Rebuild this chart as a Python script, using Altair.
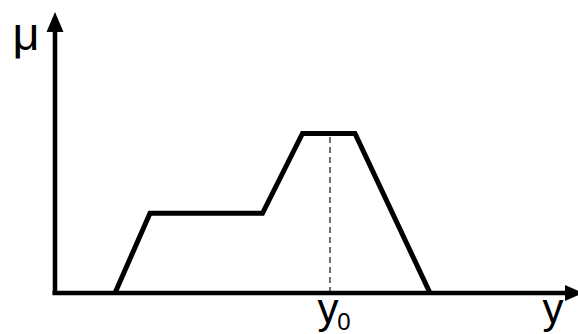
import altair as alt
import pandas as pd

# Membership function of the output fuzzy set (trapezoid with a shoulder)
shape_x = [2.4, 3.8, 8.3, 9.9, 12.0, 15.0]
shape_mu = [0.0, 0.5, 0.5, 1.0, 1.0, 0.0]

# Location of the peak value y0
y0 = 11.0

# Axis extents (data units)
x_axis_end = 20.76
mu_axis_end = 1.699

X_DOMAIN = [-2.2, 20.92]
Y_DOMAIN = [-0.257, 1.837]

xs = alt.Scale(domain=X_DOMAIN, nice=False, zero=False)
ys = alt.Scale(domain=Y_DOMAIN, nice=False, zero=False)


def X(field="x"):
    return alt.X(f"{field}:Q", scale=xs, axis=None)


def Y(field="mu"):
    return alt.Y(f"{field}:Q", scale=ys, axis=None)


shape_df = pd.DataFrame({"x": shape_x, "mu": shape_mu, "idx": list(range(len(shape_x)))})

# Coordinate axes drawn as rules
axes_df = pd.DataFrame({
    "x": [0.0, -0.1],
    "x2": [0.0, x_axis_end - 0.3],
    "mu": [-0.01, 0.0],
    "mu2": [mu_axis_end - 0.05, 0.0],
})
axes = alt.Chart(axes_df).mark_rule(color="black", strokeWidth=4.5).encode(
    x=X(), x2="x2:Q", y=Y(), y2="mu2:Q"
)

up_arrow = alt.Chart(pd.DataFrame({"x": [0.0], "mu": [mu_axis_end]})).mark_point(
    shape="M0,-1L0.85,1L-0.85,1Z", size=400, filled=True, color="black", opacity=1
).encode(x=X(), y=Y())

right_arrow = alt.Chart(pd.DataFrame({"x": [x_axis_end], "mu": [0.0]})).mark_point(
    shape="M1,0L-1,-0.9L-1,0.9Z", size=324, filled=True, color="black", opacity=1
).encode(x=X(), y=Y())

# Dashed drop line from the peak to y0
drop = alt.Chart(pd.DataFrame({"x": [y0], "mu": [0.0], "mu2": [1.0]})).mark_rule(
    color="#333333", strokeWidth=1.4, strokeDash=[6, 4]
).encode(x=X(), y=Y(), y2="mu2:Q")

shape = alt.Chart(shape_df).mark_line(
    color="black", strokeWidth=5, strokeJoin="miter"
).encode(x=X(), y=Y(), order="idx:Q")

FONT = "Liberation Sans"

mu_label = alt.Chart(pd.DataFrame({"x": [-1.16], "mu": [1.525], "label": ["μ"]})).mark_text(
    font=FONT, fontSize=47, align="center", baseline="alphabetic", color="black"
).encode(x=X(), y=Y(), text="label:N")

y_labels = alt.Chart(pd.DataFrame({
    "x": [19.92, 10.92],
    "mu": [-0.188, -0.188],
    "label": ["y", "y"],
})).mark_text(
    font=FONT, fontSize=42, align="center", baseline="alphabetic", color="black"
).encode(x=X(), y=Y(), text="label:N")

sub = alt.Chart(pd.DataFrame({"x": [11.56], "mu": [-0.232], "label": ["0"]})).mark_text(
    font=FONT, fontSize=24, align="center", baseline="alphabetic", color="black"
).encode(x=X(), y=Y(), text="label:N")

chart = (
    alt.layer(drop, shape, axes, up_arrow, right_arrow, mu_label, y_labels, sub)
    .properties(width=578, height=334, autosize=alt.AutoSizeParams(type="none"),
                padding=0, background="white")
    .configure_view(stroke=None)
)

chart.save("out.html", embed_options={"renderer": "svg", "actions": False})
